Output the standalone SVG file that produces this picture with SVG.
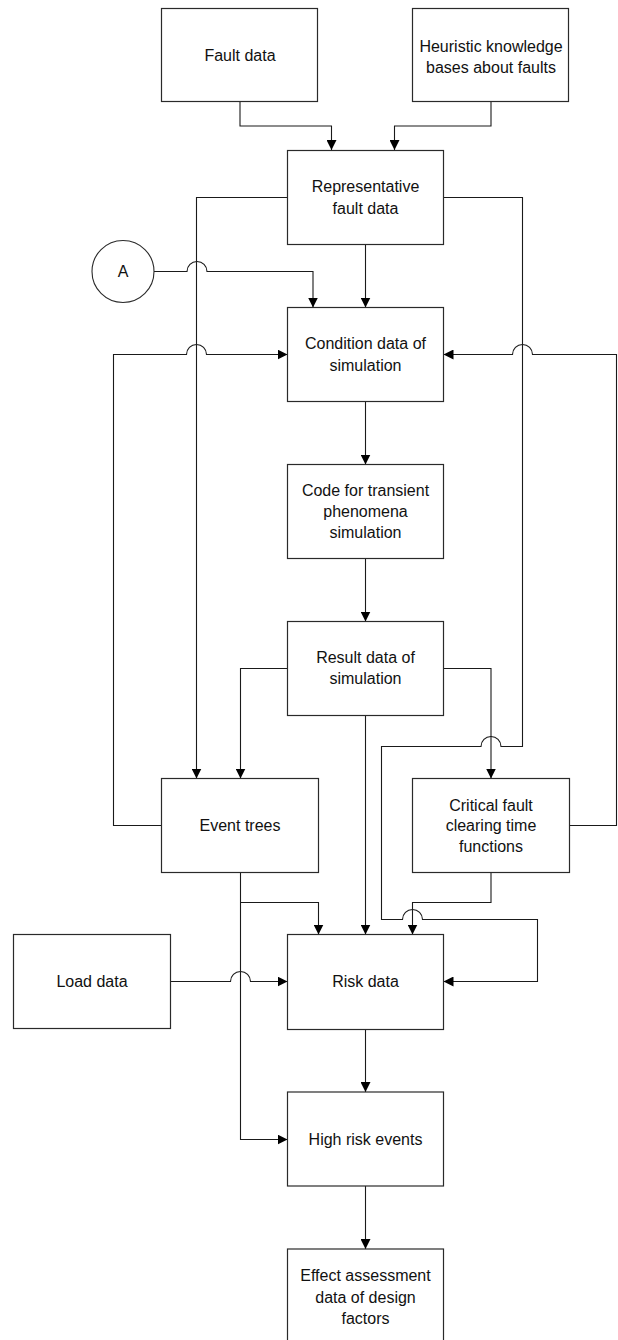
<svg xmlns="http://www.w3.org/2000/svg" width="618" height="1340" viewBox="0 0 618 1340">
  <style>
    .box { fill: #ffffff; stroke: #2a2a2a; stroke-width: 1.2; }
    .wire { fill: none; stroke: #1a1a1a; stroke-width: 1.1; }
    .arrow { marker-end: url(#head); }
    text { font-family: "Liberation Sans", Arial, sans-serif; font-size: 16px; fill: #111; text-anchor: middle; }
  </style>
  <defs>
    <marker id="head" markerUnits="userSpaceOnUse" markerWidth="10" markerHeight="10" refX="10" refY="5" orient="auto">
      <path d="M0,0 L10,5 L0,10 Z" fill="#000"/>
    </marker>
  </defs>
  <rect width="618" height="1340" fill="#ffffff"/>

  <!-- connectors -->
  <g id="connectors">
    <path class="wire arrow" d="M240,102 V126 H331.5 V150"/>
    <path class="wire arrow" d="M491,102 V126 H394.5 V150"/>
    <path class="wire arrow" d="M365.5,244.5 V307.5"/>
    <path class="wire arrow" d="M154,271.5 H187 A10,10 0 0 1 207,271.5 H313 V307.5"/>
    <path class="wire arrow" d="M287.5,197.5 H196.5 V778.5"/>
    <path class="wire arrow" d="M443.5,197.5 H522.5 V746.5 H501 A10,10 0 0 0 481,746.5 H381.5 V919.5 H402.5 A10,10 0 0 1 422.5,919.5 H537.5 V981.5 H443.5"/>
    <path class="wire arrow" d="M161.5,825.5 H113.5 V354.5 H186.5 A10,10 0 0 1 206.5,354.5 H287.5"/>
    <path class="wire arrow" d="M569.5,825.5 H616.5 V354.5 H532.5 A10,10 0 0 0 512.5,354.5 H443.5"/>
    <path class="wire arrow" d="M365.5,401.5 V464.5"/>
    <path class="wire arrow" d="M365.5,558.5 V621.5"/>
    <path class="wire arrow" d="M287.5,668.5 H240.5 V778.5"/>
    <path class="wire arrow" d="M443.5,668.5 H491 V778.5"/>
    <path class="wire arrow" d="M365.5,715.5 V934.5"/>
    <path class="wire arrow" d="M240.5,872.5 V902.5 H318.5 V934.5"/>
    <path class="wire arrow" d="M240.5,902.5 V1139.5 H287.5"/>
    <path class="wire arrow" d="M491,872.5 V902.5 H412.5 V934.5"/>
    <path class="wire arrow" d="M170.5,981.5 H230.5 A10,10 0 0 1 250.5,981.5 H287.5"/>
    <path class="wire arrow" d="M365.5,1029.5 V1092"/>
    <path class="wire arrow" d="M365.5,1186 V1249"/>
  </g>

  <g id="fault-data">
    <rect class="box" x="161.5" y="8.5" width="156" height="93"/>
    <text x="240" y="60.5">Fault data</text>
  </g>
  <g id="heuristic-knowledge">
    <rect class="box" x="412.5" y="8.5" width="156" height="93"/>
    <text x="491" y="52">Heuristic knowledge</text>
    <text x="491" y="73">bases about faults</text>
  </g>
  <g id="representative-fault-data">
    <rect class="box" x="287.5" y="150.5" width="156" height="94"/>
    <text x="365.5" y="192">Representative</text>
    <text x="365.5" y="213.5">fault data</text>
  </g>
  <g id="connector-a">
    <circle cx="123" cy="271.5" r="31" fill="#fff" stroke="#2a2a2a" stroke-width="1.1"/>
    <text x="123" y="277">A</text>
  </g>
  <g id="condition-data">
    <rect class="box" x="287.5" y="307.5" width="156" height="94"/>
    <text x="365.5" y="349">Condition data of</text>
    <text x="365.5" y="371">simulation</text>
  </g>
  <g id="simulation-code">
    <rect class="box" x="287.5" y="464.5" width="156" height="94"/>
    <text x="365.5" y="495.5">Code for transient</text>
    <text x="365.5" y="517">phenomena</text>
    <text x="365.5" y="538">simulation</text>
  </g>
  <g id="result-data">
    <rect class="box" x="287.5" y="621.5" width="156" height="94"/>
    <text x="365.5" y="662.5">Result data of</text>
    <text x="365.5" y="684">simulation</text>
  </g>
  <g id="event-trees">
    <rect class="box" x="161.5" y="778.5" width="157" height="94"/>
    <text x="240" y="831">Event trees</text>
  </g>
  <g id="critical-clearing-time">
    <rect class="box" x="412.5" y="778.5" width="157" height="94"/>
    <text x="491" y="810.5">Critical fault</text>
    <text x="491" y="831">clearing time</text>
    <text x="491" y="851.5">functions</text>
  </g>
  <g id="load-data">
    <rect class="box" x="13.5" y="934.5" width="157" height="94"/>
    <text x="92" y="987">Load data</text>
  </g>
  <g id="risk-data">
    <rect class="box" x="287.5" y="934.5" width="156" height="95"/>
    <text x="365.5" y="987">Risk data</text>
  </g>
  <g id="high-risk-events">
    <rect class="box" x="287.5" y="1092" width="156" height="94"/>
    <text x="365.5" y="1145">High risk events</text>
  </g>
  <g id="effect-assessment">
    <rect class="box" x="287.5" y="1249" width="156" height="95"/>
    <text x="365.5" y="1280.5">Effect assessment</text>
    <text x="365.5" y="1302.5">data of design</text>
    <text x="365.5" y="1323.5">factors</text>
  </g>
</svg>
